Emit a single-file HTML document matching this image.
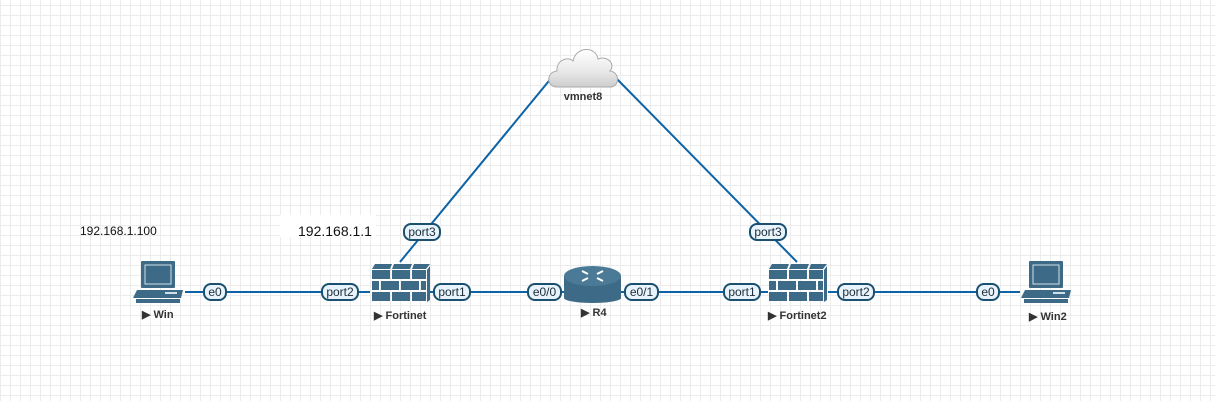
<!DOCTYPE html>
<html><head><meta charset="utf-8"><style>
html,body{margin:0;padding:0;width:1215px;height:401px;overflow:hidden;background:#fff}
svg{display:block}
text{font-family:"Liberation Sans",sans-serif}
</style></head><body>
<svg width="1215" height="401" viewBox="0 0 1215 401" xmlns="http://www.w3.org/2000/svg">
<defs>
<pattern id="g" x="0" y="5" width="10" height="10" patternUnits="userSpaceOnUse">
<path d="M0.5 0V10M0 0.5H10" stroke="#ececec" stroke-width="1" fill="none"/>
</pattern>
<linearGradient id="cl" x1="0" y1="0" x2="0" y2="1">
<stop offset="0" stop-color="#ffffff"/><stop offset="0.6" stop-color="#e8e8e8"/><stop offset="1" stop-color="#cdcdcd"/>
</linearGradient>
<g id="pc">
<rect x="8" y="0" width="34" height="27" rx="1" fill="#3d6b87"/>
<rect x="12" y="4" width="26" height="19" fill="#3d6b87" stroke="#cfe0ea" stroke-width="1"/>
<path d="M4 29H50L48 37H0Z" fill="#3d6b87"/>
<rect x="32" y="31" width="12" height="2" fill="#cfe0ea"/>
<rect x="3" y="38" width="44" height="4" fill="#3d6b87"/>
</g>
<g id="fw" fill="#3d6b87">
<rect x="0" y="6" width="18" height="9"/><rect x="20" y="6" width="18" height="9"/><rect x="40" y="6" width="14" height="9"/>
<path d="M3 0H20L18 5H0ZM22 0H40L38 5H20ZM42 0H58L54 5H40Z"/>
<rect x="0" y="17" width="7" height="9"/><rect x="9" y="17" width="18" height="9"/><rect x="29" y="17" width="18" height="9"/><rect x="49" y="17" width="5" height="9"/>
<rect x="0" y="28" width="18" height="9"/><rect x="20" y="28" width="18" height="9"/><rect x="40" y="28" width="14" height="9"/>
<path d="M55 6L58 2V36L55 38Z"/>
</g>
</defs>
<rect width="1215" height="401" fill="url(#g)"/>
<g stroke="#0d63a5" stroke-width="2" fill="none">
<line x1="185" y1="292" x2="370" y2="292"/>
<line x1="430" y1="292" x2="565" y2="292"/>
<line x1="620" y1="292" x2="768" y2="292"/>
<line x1="828" y1="292" x2="1020" y2="292"/>
<line x1="400" y1="262" x2="553" y2="76"/>
<line x1="614" y1="76" x2="797" y2="262"/>
</g>
<path d="M557 87 C546 87 546 72 557 71 C556 60 568 56 573 61 C576 46 596 46 598 59 C607 55 616 64 610 71 C620 72 620 87 610 87 Z" fill="url(#cl)" stroke="#aaa" stroke-width="1"/>
<text x="583" y="100" font-size="11" font-weight="bold" fill="#333" text-anchor="middle">vmnet8</text>
<use href="#pc" x="133" y="261"/>
<use href="#pc" x="1021" y="261"/>
<use href="#fw" x="372" y="264"/>
<use href="#fw" x="769" y="264"/>
<g>
<rect x="564" y="276" width="57" height="22" fill="#3d6b87"/>
<ellipse cx="592.5" cy="298" rx="28.5" ry="5" fill="#3d6b87"/>
<ellipse cx="592.5" cy="276" rx="28.5" ry="10" fill="#4a7a96"/>
<path d="M582 271l6 3M603 271l-6 3M582 281l6-3M603 281l-6-3" stroke="#fff" stroke-width="2"/>
</g>
<g font-size="11" font-weight="bold" fill="#333">
<text x="142" y="318">▶ Win</text>
<text x="374" y="319">▶ Fortinet</text>
<text x="581" y="316">▶ R4</text>
<text x="768" y="319">▶ Fortinet2</text>
<text x="1029" y="320">▶ Win2</text>
</g>
<g font-size="12" fill="#1c2c38" text-anchor="middle">
<g stroke="#1a4f70" stroke-width="2" fill="#e8f3fb">
<rect x="204" y="284" width="22" height="16" rx="7"/>
<rect x="322" y="284" width="36" height="16" rx="7"/>
<rect x="434" y="284" width="36" height="16" rx="7"/>
<rect x="528" y="284" width="33" height="16" rx="7"/>
<rect x="625" y="284" width="33" height="16" rx="7"/>
<rect x="724" y="284" width="36" height="16" rx="7"/>
<rect x="838" y="284" width="36" height="16" rx="7"/>
<rect x="977" y="284" width="22" height="16" rx="7"/>
<rect x="404" y="224" width="36" height="16" rx="7"/>
<rect x="750" y="224" width="36" height="16" rx="7"/>
</g>
<text x="215" y="296">e0</text>
<text x="340" y="296">port2</text>
<text x="452" y="296">port1</text>
<text x="544.5" y="296">e0/0</text>
<text x="641.5" y="296">e0/1</text>
<text x="742" y="296">port1</text>
<text x="856" y="296">port2</text>
<text x="988" y="296">e0</text>
<text x="422" y="236">port3</text>
<text x="768" y="236">port3</text>
</g>
<text x="80" y="235" font-size="12" fill="#111">192.168.1.100</text>
<rect x="280" y="215" width="96" height="22" fill="#fff"/>
<text x="298" y="236" font-size="14" fill="#111">192.168.1.1</text>
</svg>
</body></html>
